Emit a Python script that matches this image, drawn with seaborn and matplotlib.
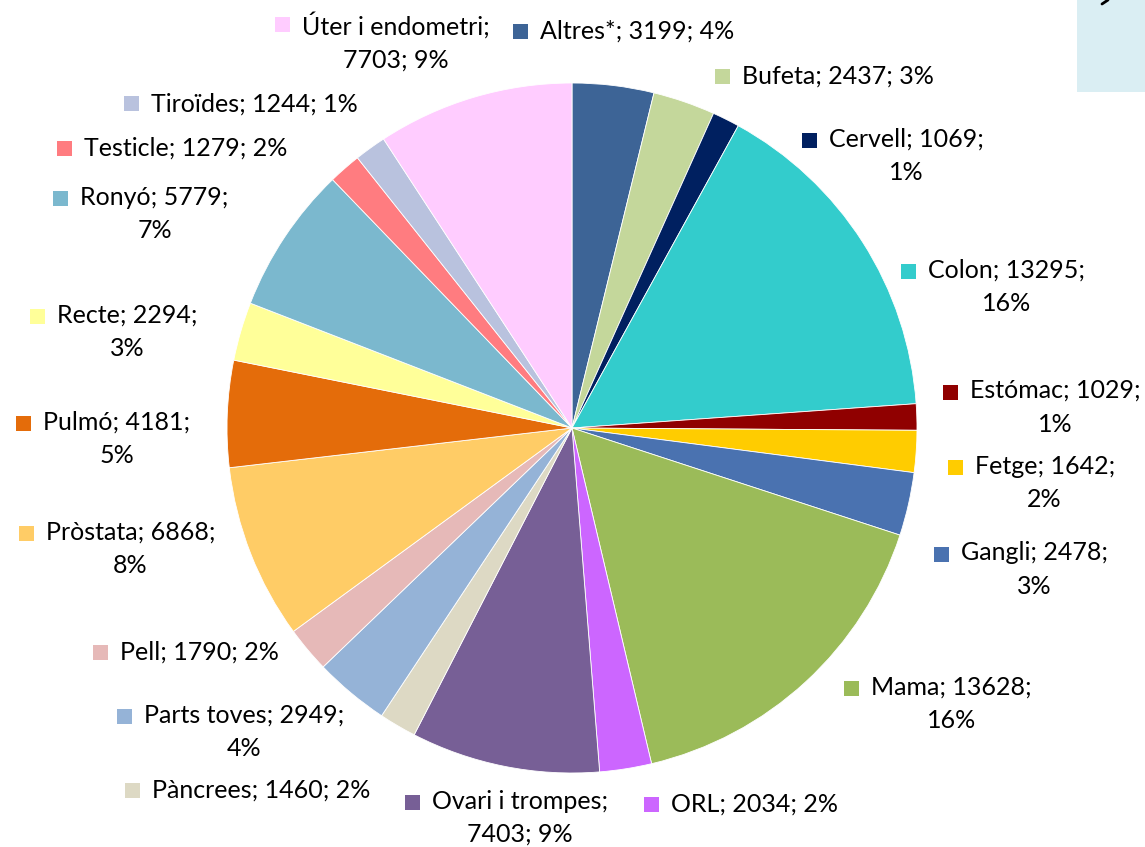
import matplotlib
matplotlib.use("Agg")
import matplotlib.pyplot as plt
from matplotlib.patches import Rectangle
from matplotlib.lines import Line2D
import seaborn as sns

# Data
organs = ["Altres*", "Bufeta", "Cervell", "Colon", "Estómac", "Fetge", "Gangli",
          "Mama", "ORL", "Ovari i trompes", "Pàncrees", "Parts toves", "Pell",
          "Pròstata", "Pulmó", "Recte", "Ronyó", "Testicle", "Tiroïdes",
          "Úter i endometri"]
cases = [3199, 2437, 1069, 13295, 1029, 1642, 2478, 13628, 2034, 7403, 1460,
         2949, 1790, 6868, 4181, 2294, 5779, 1279, 1244, 7703]
pcts = ["4%", "3%", "1%", "16%", "1%", "2%", "3%", "16%", "2%", "9%", "2%",
        "4%", "2%", "8%", "5%", "3%", "7%", "2%", "1%", "9%"]

colors = ["#3D6496", "#C4D79B", "#002060", "#33CCCC", "#900000", "#FFCC00",
          "#4A72B0", "#9BBB59", "#CC66FF", "#775F96", "#DDD9C4", "#95B3D7",
          "#E6B9B8", "#FFCC66", "#E46C0A", "#FFFF99", "#7BB8CE", "#FF7C80",
          "#B9C2DE", "#FFCCFF"]

# label layout: text centre (in pie radii) and where the label wraps
label_pos = [(0.19, 1.15), (0.77, 1.02), (0.97, 0.79), (1.26, 0.41),
             (1.40, 0.06), (1.37, -0.16), (1.34, -0.41), (1.10, -0.80),
             (0.53, -1.09), (-0.15, -1.13), (-0.90, -1.05), (-0.95, -0.88),
             (-1.08, -0.65), (-1.28, -0.35), (-1.32, -0.03), (-1.29, 0.28),
             (-1.21, 0.62), (-1.12, 0.81), (-0.92, 0.94), (-0.51, 1.12)]
wrap_after = ["", "", "value", "value", "value", "value", "value", "value",
              "", "name", "", "value", "", "value", "value", "value", "value",
              "", "", "name"]

sns.set_theme(style="white")
plt.rcParams["font.family"] = ["Lato", "DejaVu Sans"]

W, H = 1145, 847
fig = plt.figure(figsize=(W / 100, H / 100), dpi=100)
ax = fig.add_axes([0, 0, 1, 1])
cx, cy, R = 572, 428, 345

ax.pie(cases, colors=colors, startangle=90, counterclock=False, radius=1,
       wedgeprops=dict(edgecolor="white", linewidth=0.6))
ax.set_xlim(-cx / R, (W - cx) / R)
ax.set_ylim(-(H - cy) / R, cy / R)
ax.set_aspect("auto")
ax.axis("off")

texts = []
for name, n, p, pos, wr in zip(organs, cases, pcts, label_pos, wrap_after):
    if wr == "value":
        s = f"{name}; {n};\n{p}"
    elif wr == "name":
        s = f"{name};\n{n}; {p}"
    else:
        s = f"{name}; {n}; {p}"
    t = ax.text(pos[0], pos[1], s, ha="center", va="center",
                multialignment="center", fontsize=18, color="black",
                linespacing=1.55)
    texts.append(t)

# legend keys (small squares) left of the first line of each label
fig.canvas.draw()
renderer = fig.canvas.get_renderer()
side = 15
for t, col in zip(texts, colors):
    bb = t.get_window_extent(renderer)
    nlines = t.get_text().count("\n") + 1
    if nlines == 1:
        ymid = (bb.y0 + bb.y1) / 2
    else:
        ymid = bb.y1 - 13
    x0 = bb.x0 - 12 - side
    fig.patches.append(Rectangle((x0 / W, (ymid - side / 2) / H), side / W,
                                 side / H, transform=fig.transFigure,
                                 facecolor=col, edgecolor="none"))

# pale box at top right
fig.patches.append(Rectangle((1077 / W, (H - 92) / H), (W - 1077) / W, 92 / H,
                             transform=fig.transFigure, facecolor="#DAEEF3",
                             edgecolor="none"))
fig.lines.append(Line2D([1102 / W, 1108 / W], [(H - 4) / H, H / H],
                        transform=fig.transFigure, color="black", lw=2))

fig.savefig("out.png", dpi=100)
